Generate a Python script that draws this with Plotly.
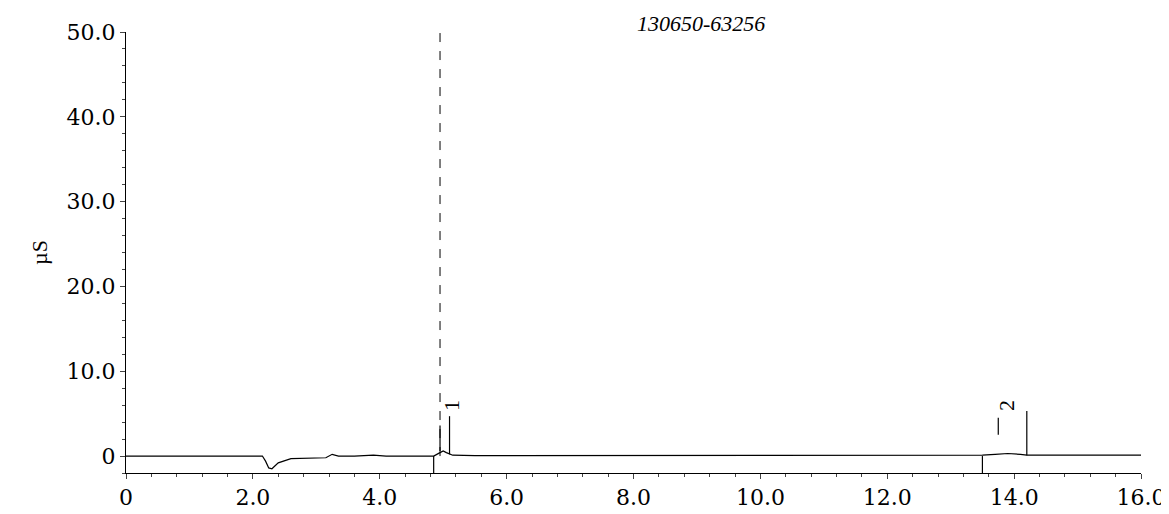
import plotly.graph_objects as go

# chromatogram trace (min, µS)
time_min = [0, 2.15, 2.2, 2.25, 2.3, 2.4, 2.6, 2.9, 3.15, 3.25, 3.35, 3.6, 3.9, 4.1, 4.5, 4.85, 4.95, 5.0, 5.05, 5.15, 5.5,
            8.0, 12.0, 13.5, 13.7, 13.9, 14.1, 14.2, 16.0]
signal_us = [0, 0, -0.6, -1.4, -1.5, -0.8, -0.3, -0.2, -0.2, 0.2, 0.0, 0.0, 0.1, 0.0, 0.0, 0.0, 0.4, 0.6, 0.4, 0.1, 0.05,
             0.05, 0.05, 0.1, 0.2, 0.3, 0.2, 0.1, 0.1]

peak_names = ["1", "2"]
peak_times = [5.12, 13.87]
peak_label_y = [6.0, 6.0]

# integration marks: (x, y0, y1)
marks_x = [4.85, 4.95, 5.1, 13.5, 13.75, 14.2]
marks_y0 = [-2, 0.6, 0.2, -2, 2.5, 0.1]
marks_y1 = [0, 3.6, 4.7, 0, 4.5, 5.3]

x_ticks = [0, 2, 4, 6, 8, 10, 12, 14, 16]
x_labels = ["0", "2.0", "4.0", "6.0", "8.0", "10.0", "12.0", "14.0", "16.0"]
y_ticks = [0, 10, 20, 30, 40, 50]
y_labels = ["0", "10.0", "20.0", "30.0", "40.0", "50.0"]

SERIF = "Liberation Serif"

fig = go.Figure()
fig.add_trace(go.Scatter(x=time_min, y=signal_us, mode="lines",
                         line=dict(color="black", width=1.2), showlegend=False))

for x, y0, y1 in zip(marks_x, marks_y0, marks_y1):
    fig.add_shape(type="line", x0=x, x1=x, y0=y0, y1=y1, line=dict(color="black", width=1.2))
fig.add_shape(type="line", x0=4.95, x1=4.95, y0=0, y1=50, line=dict(color="black", width=1, dash="dash"))

for name, t, y in zip(peak_names, peak_times, peak_label_y):
    fig.add_annotation(x=t, y=y, text=f"<i></i>{name}", showarrow=False, textangle=-90,
                       font=dict(family=SERIF, size=22, color="black"))

fig.update_layout(
    width=1169, height=514,
    paper_bgcolor="white", plot_bgcolor="white",
    margin=dict(l=118, r=30, t=15, b=30),
    title=dict(text="<i>130650-63256</i>", x=0.593, y=0.985, xanchor="center", yanchor="top",
               font=dict(family=SERIF, size=22, color="black")),
    font=dict(family=SERIF, size=24, color="black"),
    xaxis=dict(range=[0, 16], tickvals=x_ticks, ticktext=x_labels, showgrid=False, zeroline=False,
               showline=True, linecolor="black", ticks="outside", ticklen=5, tickfont=dict(family="DejaVu Serif", size=22),
               minor=dict(ticks="outside", ticklen=3, dtick=0.4)),
    yaxis=dict(range=[-2, 50], tickvals=y_ticks, ticktext=y_labels, showgrid=False, zeroline=False,
               showline=True, linecolor="black", ticks="outside", ticklen=5, tickfont=dict(family="DejaVu Serif", size=22),
               minor=dict(ticks="outside", ticklen=3, dtick=2),
               title=dict(text="µS", standoff=12, font=dict(family=SERIF, size=22))),
)

fig.write_html("out.html")
